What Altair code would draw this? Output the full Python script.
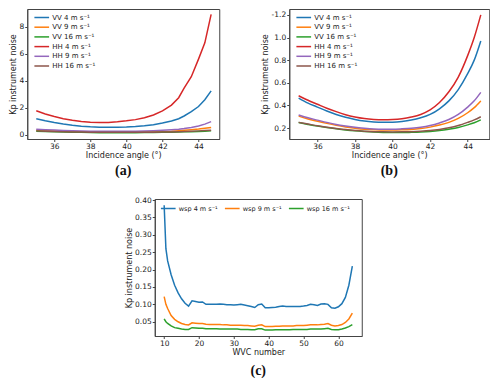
import altair as alt
import pandas as pd

# ---------------- data ----------------
series_ab = ["VV 4 m s⁻¹", "VV 9 m s⁻¹", "VV 16 m s⁻¹", "HH 4 m s⁻¹", "HH 9 m s⁻¹", "HH 16 m s⁻¹"]
colors_ab = ["#1f77b4", "#ff7f0e", "#2ca02c", "#d62728", "#9467bd", "#8c564b"]

angle_a = [35, 35.5, 36, 36.5, 37, 37.5, 38, 38.5, 39, 39.5, 40, 40.5, 41, 41.5, 42, 42.5,
           42.9, 43.2, 43.6, 44.0, 44.35, 44.7]
vv4_a = [1.2, 1.05, 0.92, 0.81, 0.72, 0.65, 0.6, 0.57, 0.56, 0.56, 0.58, 0.62, 0.68, 0.76, 0.88,
         1.03, 1.2, 1.4, 1.72, 2.1, 2.6, 3.25]
vv9_a = [0.35, 0.32, 0.29, 0.27, 0.25, 0.23, 0.22, 0.21, 0.21, 0.21, 0.21, 0.22, 0.23, 0.24, 0.26,
         0.28, 0.31, 0.34, 0.38, 0.43, 0.49, 0.55]
vv16_a = [0.27, 0.25, 0.23, 0.21, 0.2, 0.19, 0.18, 0.17, 0.17, 0.17, 0.17, 0.17, 0.18, 0.18, 0.19,
          0.2, 0.21, 0.23, 0.24, 0.26, 0.28, 0.3]
hh4_a = [1.78, 1.55, 1.36, 1.2, 1.08, 0.99, 0.93, 0.91, 0.92, 0.97, 1.04, 1.13, 1.27, 1.47, 1.78,
         2.2, 2.75, 3.45, 4.3, 5.6, 6.8, 8.9]
hh9_a = [0.42, 0.39, 0.36, 0.33, 0.31, 0.29, 0.28, 0.27, 0.27, 0.27, 0.27, 0.28, 0.29, 0.31, 0.34,
         0.38, 0.42, 0.47, 0.55, 0.66, 0.8, 0.98]
hh16_a = [0.3, 0.28, 0.26, 0.24, 0.22, 0.21, 0.2, 0.19, 0.19, 0.19, 0.19, 0.19, 0.2, 0.2, 0.21,
          0.22, 0.24, 0.25, 0.27, 0.3, 0.32, 0.35]

angle_b = [35, 35.5, 36, 36.5, 37, 37.5, 38, 38.5, 39, 39.5, 40, 40.5, 41, 41.5, 42, 42.5, 43,
           43.5, 44, 44.35, 44.7]
vv4_b = [0.465, 0.42, 0.385, 0.35, 0.32, 0.295, 0.276, 0.262, 0.254, 0.251, 0.252, 0.258, 0.27,
         0.29, 0.32, 0.37, 0.44, 0.54, 0.68, 0.8, 0.97]
vv9_b = [0.305, 0.28, 0.26, 0.241, 0.224, 0.21, 0.199, 0.19, 0.185, 0.182, 0.182, 0.184, 0.188,
         0.196, 0.208, 0.226, 0.25, 0.285, 0.335, 0.38, 0.44]
vv16_b = [0.248, 0.232, 0.217, 0.204, 0.193, 0.183, 0.175, 0.169, 0.164, 0.161, 0.16, 0.16, 0.162,
          0.165, 0.17, 0.178, 0.19, 0.205, 0.228, 0.247, 0.272]
hh4_b = [0.485, 0.445, 0.41, 0.375, 0.345, 0.318, 0.298, 0.284, 0.276, 0.273, 0.275, 0.282, 0.297,
         0.32, 0.36, 0.425, 0.52, 0.65, 0.84, 1.0, 1.2]
hh9_b = [0.315, 0.29, 0.27, 0.25, 0.232, 0.218, 0.206, 0.198, 0.192, 0.19, 0.19, 0.193, 0.198,
         0.207, 0.222, 0.245, 0.275, 0.32, 0.385, 0.44, 0.515]
hh16_b = [0.25, 0.235, 0.22, 0.207, 0.196, 0.186, 0.178, 0.172, 0.168, 0.166, 0.165, 0.166, 0.168,
          0.172, 0.178, 0.188, 0.202, 0.222, 0.25, 0.272, 0.3]

series_c = ["wsp 4 m s⁻¹", "wsp 9 m s⁻¹", "wsp 16 m s⁻¹"]
colors_c = ["#1f77b4", "#ff7f0e", "#2ca02c"]
wvc = [10, 10.5] + list(range(11, 65))
wsp4 = [0.385, 0.26, 0.225, 0.185, 0.155, 0.133, 0.116, 0.103, 0.095, 0.110, 0.108, 0.106, 0.107,
        0.100, 0.100, 0.100, 0.100, 0.101, 0.100, 0.099, 0.099, 0.098, 0.099, 0.100, 0.098, 0.096,
        0.094, 0.091, 0.099, 0.101, 0.090, 0.090, 0.091, 0.092, 0.094, 0.095, 0.094, 0.094, 0.094,
        0.094, 0.094, 0.095, 0.097, 0.100, 0.099, 0.097, 0.101, 0.102, 0.100, 0.090, 0.089, 0.093,
        0.102, 0.120, 0.155, 0.210]
wsp9 = [0.122, 0.100, 0.088, 0.068, 0.057, 0.050, 0.045, 0.042, 0.041, 0.047, 0.046, 0.045, 0.045,
        0.043, 0.042, 0.042, 0.042, 0.042, 0.041, 0.041, 0.040, 0.040, 0.040, 0.040, 0.039, 0.039,
        0.038, 0.037, 0.040, 0.041, 0.036, 0.036, 0.036, 0.037, 0.037, 0.038, 0.038, 0.038, 0.038,
        0.039, 0.039, 0.039, 0.040, 0.041, 0.041, 0.041, 0.042, 0.043, 0.045, 0.040, 0.038, 0.039,
        0.042, 0.048, 0.058, 0.075]
wsp16 = [0.058, 0.050, 0.045, 0.038, 0.033, 0.031, 0.029, 0.028, 0.028, 0.033, 0.032, 0.031, 0.031,
         0.030, 0.030, 0.030, 0.030, 0.029, 0.029, 0.029, 0.029, 0.029, 0.029, 0.028, 0.028, 0.028,
         0.027, 0.027, 0.030, 0.030, 0.026, 0.026, 0.026, 0.027, 0.027, 0.027, 0.027, 0.027, 0.028,
         0.028, 0.028, 0.028, 0.028, 0.029, 0.029, 0.029, 0.029, 0.030, 0.031, 0.028, 0.027, 0.027,
         0.029, 0.032, 0.036, 0.042]


def long(x, cols, names):
    rows = []
    for k, (name, ys) in enumerate(zip(names, cols)):
        for xv, yv in zip(x, ys):
            rows.append({"x": xv, "y": yv, "series": name, "order": k})
    return pd.DataFrame(rows)


df_a = long(angle_a, [vv4_a, vv9_a, vv16_a, hh4_a, hh9_a, hh16_a], series_ab)
df_b = long(angle_b, [vv4_b, vv9_b, vv16_b, hh4_b, hh9_b, hh16_b], series_ab)
df_c = long(wvc, [wsp4, wsp9, wsp16], series_c)

FONT = "DejaVu Sans"
LEG_PATH = "M-2.1,0H2.1"


def legend_v(lx, ly):
    return alt.Legend(title=None, orient="none", legendX=lx, legendY=ly, padding=1,
                      symbolType=LEG_PATH, symbolSize=49, symbolStrokeWidth=1.5,
                      labelFontSize=7, labelOffset=6, rowPadding=1.7, labelColor="#222",
                      labelFont=FONT)


def legend_h(lx, ly):
    return alt.Legend(title=None, orient="none", legendX=lx, legendY=ly, padding=1,
                      direction="horizontal", columns=3, columnPadding=4,
                      symbolType=LEG_PATH, symbolSize=49, symbolStrokeWidth=1.5,
                      labelFontSize=6.5, labelOffset=6, labelColor="#222", labelFont=FONT)


def panel(df, names, cols, xdom, xvals, xtitle, ydom, yvals, yfmt, label, w, h, legend,
          interp, ylabel_expr=None, label_offset=4):
    yaxis_kw = dict(title="Kp instrument noise", values=yvals, format=yfmt)
    if ylabel_expr:
        yaxis_kw["labelExpr"] = ylabel_expr
    return alt.Chart(df).mark_line(strokeWidth=1.5, interpolate=interp, clip=True).encode(
        x=alt.X("x:Q", scale=alt.Scale(domain=xdom, nice=False, zero=False),
                axis=alt.Axis(title=xtitle, values=xvals, format="d")),
        y=alt.Y("y:Q", scale=alt.Scale(domain=ydom, nice=False, zero=False),
                axis=alt.Axis(**yaxis_kw)),
        color=alt.Color("series:N", scale=alt.Scale(domain=names, range=cols),
                        sort=names, legend=legend),
        order="order:Q",
    ).properties(
        width=w, height=h,
        title=alt.TitleParams(label, orient="bottom", font="Liberation Serif",
                              fontWeight="bold", fontSize=14, offset=label_offset,
                              color="#111"),
    )


chart_a = panel(df_a, series_ab, colors_ab, [34.5, 45.15], [36, 38, 40, 42, 44],
                "Incidence angle (°)", [-0.3, 9.3], [0, 2, 4, 6, 8], "d", "(a)",
                192, 130, legend_v(9, 3), "linear")
chart_b = panel(df_b, series_ab, colors_ab, [34.5, 45.15], [36, 38, 40, 42, 44],
                "Incidence angle (°)", [0.103, 1.252], [0.2, 0.4, 0.6, 0.8, 1.0, 1.2], ".1f",
                "(b)", 200, 130, legend_v(9, 3), "monotone",
                ylabel_expr="datum.value > 1.1 ? '-1.2' : format(datum.value, '.1f')")
chart_c = panel(df_c, series_c, colors_c, [7.3, 66.7], [10, 20, 30, 40, 50, 60],
                "WVC number", [0.009, 0.403],
                [0.05, 0.10, 0.15, 0.20, 0.25, 0.30, 0.35, 0.40], ".2f", "(c)",
                207, 137, legend_h(8, 4), "linear", label_offset=7)

top = alt.hconcat(chart_a, chart_b, spacing=40).resolve_scale(color="independent")
chart = alt.vconcat(top, chart_c, spacing=17, center=True).resolve_scale(
    color="independent"
).properties(padding=0).configure(font=FONT).configure_view(
    stroke="#444", strokeWidth=1
).configure_axis(
    labelFontSize=7.5, titleFontSize=8, labelFont=FONT, titleFont=FONT,
    labelColor="#222", titleColor="#222", tickSize=2.5, tickColor="#444",
    domainColor="#444", grid=False, labelPadding=1, titlePadding=1.5,
    titleFontWeight="normal",
)

chart.save("out.html", embed_options={"renderer": "svg", "actions": False})
